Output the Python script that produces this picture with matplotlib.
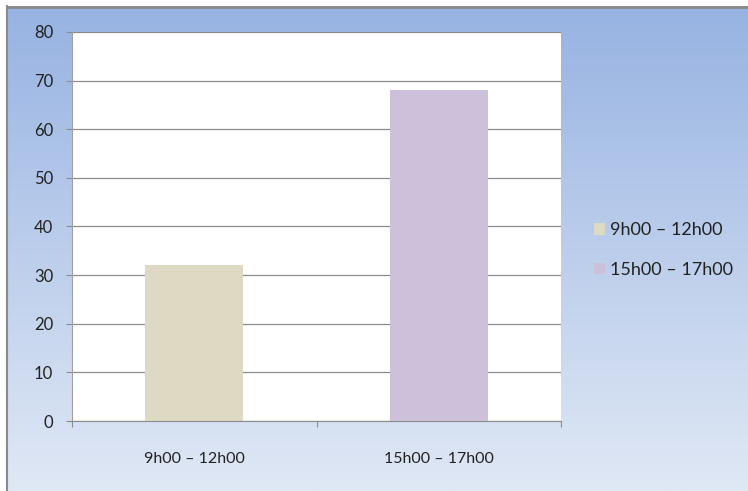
import numpy as np
import matplotlib.pyplot as plt
from matplotlib.patches import Patch

categories = ["9h00 – 12h00", "15h00 – 17h00"]
values = [32, 68]
colors = ["#DDD9C3", "#CCC0DA"]
yticks = [0, 10, 20, 30, 40, 50, 60, 70, 80]

W, H = 748, 491
fig = plt.figure(figsize=(W / 100, H / 100), dpi=100)
fig.patch.set_facecolor("white")

# gradient background with gray border (cropped at right/bottom)
bg = fig.add_axes([0, 0, 1, 1], zorder=0)
bg.set_xlim(0, W)
bg.set_ylim(H, 0)
bg.axis("off")
top = np.array([0x97, 0xB3, 0xE2]) / 255
bot = np.array([0xE0, 0xE8, 0xF5]) / 255
t = np.linspace(0, 1, 256)[:, None, None]
grad = top * (1 - t) + bot * t
grad = np.repeat(grad, 2, axis=1)
bg.imshow(grad, extent=[7, W, H, 6], aspect="auto", interpolation="bilinear")
bg.plot([7, W], [6.5, 6.5], color="#8A8A8A", lw=2)
bg.plot([7.5, 7.5], [6, H], color="#8A8A8A", lw=1.5)

font = "Lato"
ax = fig.add_axes([72 / W, 1 - 421 / H, (561 - 72) / W, (421 - 32) / H], zorder=1)
ax.set_facecolor("white")
x = np.arange(len(categories))
ax.bar(x, values, width=0.4, color=colors, zorder=2)
ax.set_xlim(-0.5, len(categories) - 0.5)
ax.set_ylim(0, 80)
ax.set_yticks(yticks)
ax.set_yticklabels([str(v) for v in yticks], fontsize=12, family=font, color="#222222")
ax.yaxis.grid(True, color="#8C8C8C", lw=0.9, zorder=1)
ax.set_axisbelow(True)

ax.set_xticks(np.arange(len(categories) + 1) - 0.5)
ax.set_xticklabels([])
ax.set_xticks(x, minor=True)
ax.set_xticklabels(categories, minor=True, fontsize=11.5, family=font, color="#222222")
ax.tick_params(axis="x", which="minor", length=0, pad=22)
ax.tick_params(axis="x", which="major", length=4.5, color="#8C8C8C")
ax.tick_params(axis="y", length=4.5, color="#8C8C8C", pad=9)

for s in ["top", "right"]:
    ax.spines[s].set_visible(False)
ax.spines["left"].set_color("#A0A0A0")
ax.spines["bottom"].set_color("#8C8C8C")

handles = [Patch(facecolor=c, edgecolor="none") for c in colors]
fig.legend(handles, categories, loc="center left", bbox_to_anchor=(578 / W, 1 - 250 / H),
           frameon=False, prop={"family": font, "size": 13}, handlelength=0.6,
           handleheight=0.6, handletextpad=0.3, labelspacing=1.3, labelcolor="#222222")

fig.savefig("out.png", dpi=100)
